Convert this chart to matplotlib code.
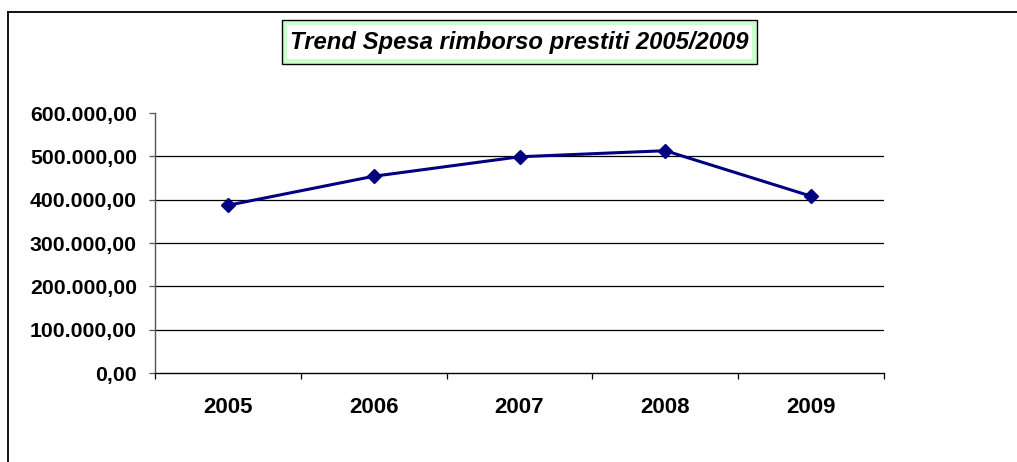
import matplotlib
matplotlib.use("Agg")
import matplotlib.pyplot as plt
from matplotlib.patches import Rectangle
from matplotlib.lines import Line2D
from matplotlib.ticker import FuncFormatter

plt.rcParams['font.family'] = ['Liberation Sans', 'DejaVu Sans']

# dati
anni = ["2005", "2006", "2007", "2008", "2009"]
spesa = [387000, 454000, 499000, 513000, 408000]
titolo = "Trend Spesa rimborso prestiti 2005/2009"

W, H = 1017, 462
fig = plt.figure(figsize=(W / 100, H / 100), dpi=100)

def fx(px):
    return px / W

def fy(py):
    return 1 - py / H

# cornice esterna (solo lato superiore e sinistro visibili)
fig.add_artist(Line2D([fx(8), 1.0], [fy(11.5), fy(11.5)], color='black', lw=1.3, transform=fig.transFigure))
fig.add_artist(Line2D([fx(8), fx(8)], [fy(11.5), 0.0], color='black', lw=1.3, transform=fig.transFigure))

ax = fig.add_axes([fx(155), fy(373), fx(884) - fx(155), fy(113) - fy(373)])

x = list(range(len(anni)))
ax.plot(x, spesa, color='#000080', lw=2.2, marker='D', markersize=7, zorder=3)

ax.set_xlim(-0.5, len(anni) - 0.5)
ax.set_ylim(0, 600000)
ax.set_yticks([0, 100000, 200000, 300000, 400000, 500000, 600000])

def fmt(v, pos):
    s = "{:,.2f}".format(v)
    return s.replace(",", "X").replace(".", ",").replace("X", ".")

ax.yaxis.set_major_formatter(FuncFormatter(fmt))
for v in [100000, 200000, 300000, 400000, 500000]:
    ax.axhline(v, color='black', lw=0.9, zorder=1)

ax.set_xticks(x)
ax.set_xticklabels(anni)
ax.set_xticks([i - 0.5 for i in range(len(anni) + 1)], minor=True)
ax.tick_params(axis='x', which='major', length=0, pad=17)
ax.tick_params(axis='x', which='minor', length=4, width=0.9, color='black', direction='out')
ax.tick_params(axis='y', length=4, width=0.9, color='#555555', pad=9)

for lab in ax.get_yticklabels():
    lab.set_fontsize(15.3)
    lab.set_fontweight('bold')
for lab in ax.get_xticklabels():
    lab.set_fontsize(16)
    lab.set_fontweight('bold')

ax.spines['top'].set_visible(False)
ax.spines['right'].set_visible(False)
ax.spines['left'].set_color('#555555')
ax.spines['bottom'].set_color('black')
ax.spines['left'].set_linewidth(1.0)
ax.spines['bottom'].set_linewidth(1.0)

# box del titolo
fig.add_artist(Rectangle((fx(282), fy(64)), fx(757) - fx(282), fy(20) - fy(64),
                         facecolor='#CCFFCC', edgecolor='black', lw=1.0, transform=fig.transFigure))
fig.add_artist(Rectangle((fx(287), fy(59)), fx(752) - fx(287), fy(25) - fy(59),
                         facecolor='white', edgecolor='none', transform=fig.transFigure))
fig.text(fx(519.5), fy(42), titolo, ha='center', va='center', fontsize=17.2,
         fontweight='bold', fontstyle='italic')

fig.savefig("out.png", dpi=100)
